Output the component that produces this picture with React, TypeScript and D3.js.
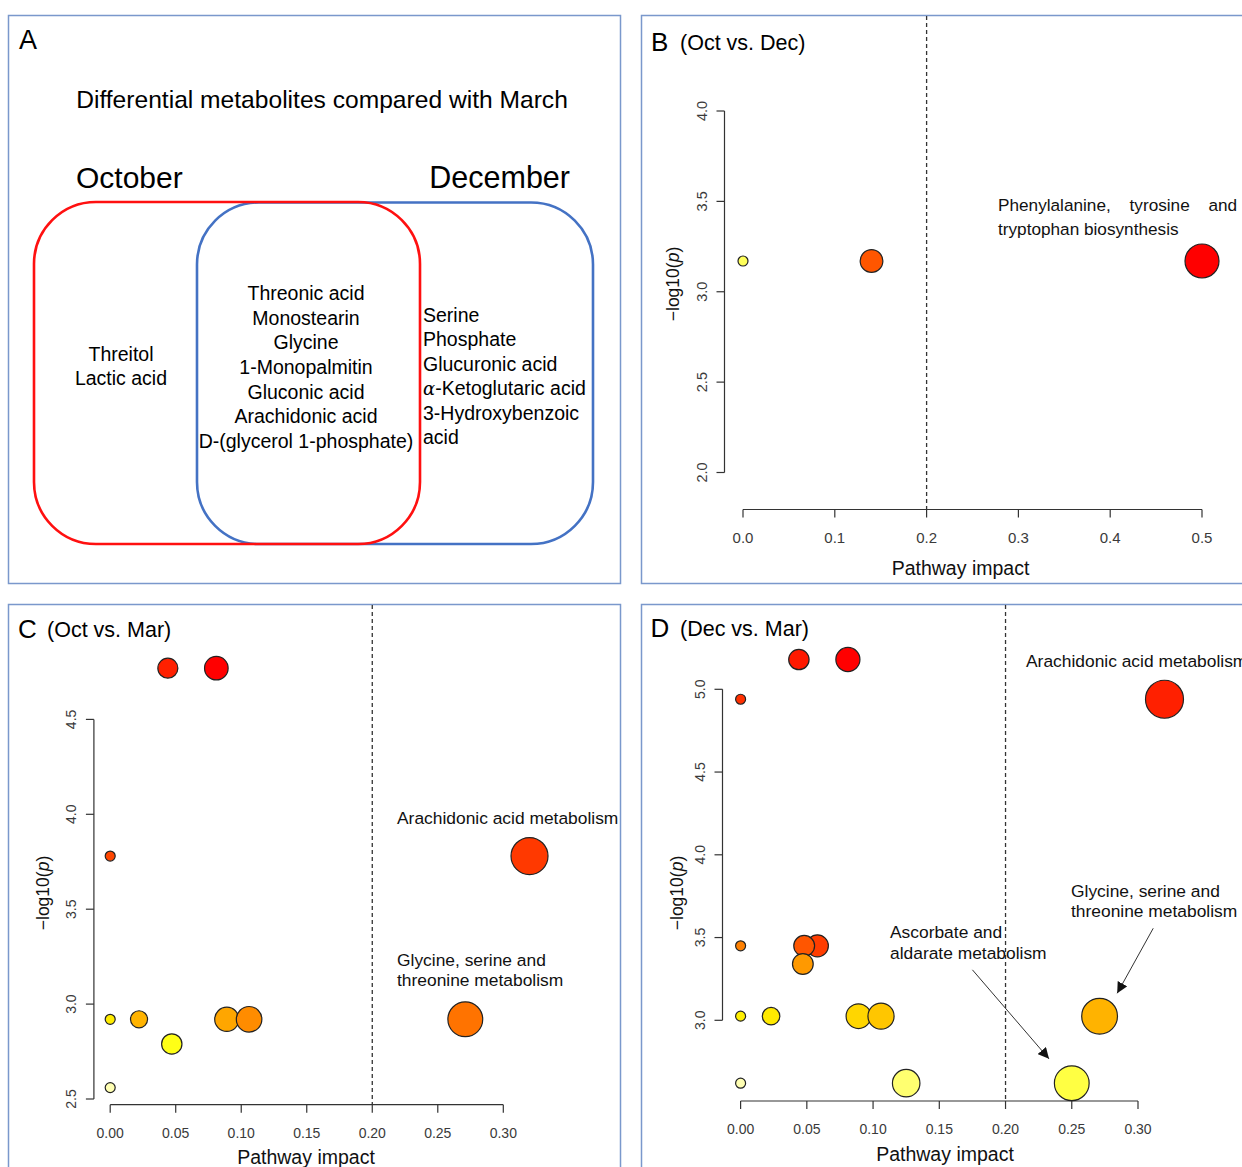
import React from "react";
import * as d3 from "d3";

const FONT = "'Liberation Sans', Arial, Helvetica, sans-serif";

// ---------- Panel A (Venn) ----------
const vennTitle = "Differential metabolites compared with March";
const setNames = ["October", "December"];
const octOnly = ["Threitol", "Lactic acid"];
const shared = [
  "Threonic acid",
  "Monostearin",
  "Glycine",
  "1-Monopalmitin",
  "Gluconic acid",
  "Arachidonic acid",
  "D-(glycerol 1-phosphate)",
];
const decOnly = ["Serine", "Phosphate", "Glucuronic acid", "-Ketoglutaric acid", "3-Hydroxybenzoic", "acid"];

// ---------- Panel B (Oct vs. Dec) ----------
const bImpact = [0, 0.14, 0.5];
const bLogP = [3.17, 3.17, 3.17];
const bHeat = [0.88, 0.27, 0];
const bXTicks = [0, 0.1, 0.2, 0.3, 0.4, 0.5];
const bYTicks = [2.0, 2.5, 3.0, 3.5, 4.0];

// ---------- Panel C (Oct vs. Mar) ----------
const cImpact = [0.044, 0.081, 0, 0.32, 0, 0.022, 0.047, 0.089, 0.106, 0.271, 0];
const cLogP = [4.77, 4.77, 3.78, 3.78, 2.92, 2.92, 2.79, 2.92, 2.92, 2.92, 2.56];
const cHeat = [0.1, 0, 0.22, 0.18, 0.74, 0.56, 0.82, 0.52, 0.44, 0.36, 0.96];
const cXTicks = [0, 0.05, 0.1, 0.15, 0.2, 0.25, 0.3];
const cYTicks = [2.5, 3.0, 3.5, 4.0, 4.5];

// ---------- Panel D (Dec vs. Mar) ----------
const dImpact = [0.044, 0.081, 0, 0.32, 0, 0.058, 0.048, 0.047, 0, 0.023, 0.089, 0.106, 0.271, 0, 0.125, 0.25];
const dLogP = [5.18, 5.18, 4.94, 4.94, 3.45, 3.45, 3.45, 3.34, 3.025, 3.025, 3.025, 3.025, 3.025, 2.62, 2.62, 2.62];
const dHeat = [0.08, 0, 0.15, 0.1, 0.4, 0.19, 0.27, 0.48, 0.75, 0.73, 0.67, 0.62, 0.56, 0.96, 0.9, 0.86];
const dXTicks = [0, 0.05, 0.1, 0.15, 0.2, 0.25, 0.3];
const dYTicks = [3.0, 3.5, 4.0, 4.5, 5.0];
// arrows (data coords): [x1, y1, x2, y2]
const dArrowAscorbate = [0.175, 3.305, 0.2328, 2.767];
const dArrowGlycine = [0.3115, 3.556, 0.2843, 3.163];

const impactThreshold = 0.2;

const heatColor = d3
  .scaleLinear<string>()
  .domain([0, 0.8, 1])
  .range(["#ff0000", "#ffff00", "#ffffe0"])
  .interpolate(d3.interpolateRgb);

const BORDER = "#7a98cc";
const TICK_COL = "#3a3a3a";

function Axes({ sx, sy, xTicks, yTicks, xAxisY, yAxisX, xFmt, yFmt, xfs, yfs }: any) {
  const fx = d3.format(xFmt);
  const fy = d3.format(yFmt);
  return (
    <g>
      <line x1={sx(xTicks[0])} x2={sx(xTicks[xTicks.length - 1])} y1={xAxisY} y2={xAxisY} stroke="#333" strokeWidth={1.2} />
      {xTicks.map((t: number) => (
        <g key={"x" + t}>
          <line x1={sx(t)} x2={sx(t)} y1={xAxisY} y2={xAxisY + 8} stroke="#333" strokeWidth={1.2} />
          <text x={sx(t)} y={xAxisY + 28} textAnchor="middle" dominantBaseline="central" fontSize={xfs} fill={TICK_COL}>
            {fx(t)}
          </text>
        </g>
      ))}
      <line x1={yAxisX} x2={yAxisX} y1={sy(yTicks[0])} y2={sy(yTicks[yTicks.length - 1])} stroke="#333" strokeWidth={1.2} />
      {yTicks.map((t: number) => (
        <g key={"y" + t}>
          <line x1={yAxisX - 8} x2={yAxisX} y1={sy(t)} y2={sy(t)} stroke="#333" strokeWidth={1.2} />
          <text
            transform={`translate(${yAxisX - 23},${sy(t)}) rotate(-90)`}
            textAnchor="middle"
            dominantBaseline="central"
            fontSize={yfs}
            fill={TICK_COL}
          >
            {fy(t)}
          </text>
        </g>
      ))}
    </g>
  );
}

function Points({ sx, sy, sr, impact, logp, heat }: any) {
  return (
    <g>
      {impact.map((v: number, i: number) => (
        <circle
          key={i}
          cx={sx(v)}
          cy={sy(logp[i])}
          r={sr(v)}
          fill={heatColor(heat[i])}
          stroke="#222"
          strokeWidth={1.2}
        />
      ))}
    </g>
  );
}

function YLabel({ x, y }: { x: number; y: number }) {
  return (
    <text transform={`translate(${x},${y}) rotate(-90)`} textAnchor="middle" dominantBaseline="central" fontSize={17.5} fill="#111">
      −log10(<tspan fontStyle="italic">p</tspan>)
    </text>
  );
}

export default function App() {
  // Panel B scales
  const sxB = d3.scaleLinear().domain([0, 0.5]).range([743, 1202]);
  const syB = d3.scaleLinear().domain([2, 4]).range([472.5, 111]);
  const srB = d3.scaleSqrt().domain([0, 0.5]).range([5, 17]);
  // Panel C scales
  const sxC = d3.scaleLinear().domain([0, 0.3]).range([110.2, 503.3]);
  const syC = d3.scaleLinear().domain([2.5, 4.5]).range([1099, 719.4]);
  const srC = d3.scaleSqrt().domain([0, 0.32]).range([5, 18.5]);
  // Panel D scales
  const sxD = d3.scaleLinear().domain([0, 0.3]).range([740.6, 1138]);
  const syD = d3.scaleLinear().domain([3, 5]).range([1020.3, 689.3]);
  const srD = d3.scaleSqrt().domain([0, 0.32]).range([5, 19]);

  const venLine = 24.67;

  return (
    <svg
      width={1242}
      height={1167}
      style={{ position: "absolute", left: 0, top: 0 }}
      fontFamily={FONT}
    >
      <defs>
        <marker id="arr" viewBox="0 0 10 10" refX="10" refY="5" markerWidth="11" markerHeight="11" markerUnits="userSpaceOnUse" orient="auto">
          <path d="M0,0 L10,5 L0,10 z" fill="#111" />
        </marker>
      </defs>
      <rect x={0} y={0} width={1242} height={1167} fill="#fff" />

      {/* Panel borders */}
      <rect x={8.5} y={15.5} width={612} height={568} fill="none" stroke={BORDER} strokeWidth={1.5} />
      <rect x={641.5} y={15.5} width={620} height={568} fill="none" stroke={BORDER} strokeWidth={1.5} />
      <rect x={8.5} y={604.5} width={612} height={580} fill="none" stroke={BORDER} strokeWidth={1.5} />
      <rect x={641.5} y={604.5} width={620} height={580} fill="none" stroke={BORDER} strokeWidth={1.5} />

      {/* ---------- Panel A ---------- */}
      <text x={19} y={49} fontSize={27} fill="#000">A</text>
      <text x={322} y={108} textAnchor="middle" fontSize={24.6} fill="#000">{vennTitle}</text>
      <text x={76} y={188} fontSize={30} fill="#000">{setNames[0]}</text>
      <text x={570} y={188} textAnchor="end" fontSize={30.5} fill="#000">{setNames[1]}</text>
      <rect x={197} y={202.5} width={396} height={341.5} rx={62} ry={62} fill="none" stroke="#4472c4" strokeWidth={2.6} />
      <rect x={34} y={202} width={386} height={342} rx={62} ry={62} fill="none" stroke="#ff1010" strokeWidth={2.6} />
      {octOnly.map((t, i) => (
        <text key={t} x={121} y={361 + i * 24.3} textAnchor="middle" fontSize={19.5} fill="#000">{t}</text>
      ))}
      {shared.map((t, i) => (
        <text key={t} x={306} y={300 + i * venLine} textAnchor="middle" fontSize={19.5} fill="#000">{t}</text>
      ))}
      {decOnly.map((t, i) => (
        <text key={t + i} x={423} y={322 + i * 24.4} fontSize={19.5} fill="#000">
          {i === 3 ? (
            <>
              <tspan fontFamily="'DejaVu Serif', serif" fontStyle="italic" fontSize={18}>α</tspan>
              {t}
            </>
          ) : (
            t
          )}
        </text>
      ))}

      {/* ---------- Panel B ---------- */}
      <text x={651} y={51} fontSize={26} fill="#000">B</text>
      <text x={680} y={50} fontSize={21.5} fill="#000">(Oct vs. Dec)</text>
      <line x1={sxB(impactThreshold)} x2={sxB(impactThreshold)} y1={16} y2={509.5} stroke="#333" strokeWidth={1.3} strokeDasharray="4 3" />
      <Axes sx={sxB} sy={syB} xTicks={bXTicks} yTicks={bYTicks} xAxisY={509.5} yAxisX={724.5} xFmt=".1f" yFmt=".1f" xfs={15} yfs={14.5} />
      <Points sx={sxB} sy={syB} sr={srB} impact={bImpact} logp={bLogP} heat={bHeat} />
      <text x={998} y={211} fontSize={17.2} fill="#111" wordSpacing={14}>Phenylalanine, tyrosine and</text>
      <text x={998} y={235} fontSize={17.2} fill="#111">tryptophan biosynthesis</text>
      <text x={960.5} y={568} textAnchor="middle" dominantBaseline="central" fontSize={19.5} fill="#111">Pathway impact</text>
      <YLabel x={672.6} y={284} />

      {/* ---------- Panel C ---------- */}
      <text x={18} y={638} fontSize={26} fill="#000">C</text>
      <text x={47} y={637} fontSize={21.5} fill="#000">(Oct vs. Mar)</text>
      <line x1={sxC(impactThreshold)} x2={sxC(impactThreshold)} y1={605} y2={1104.7} stroke="#333" strokeWidth={1.3} strokeDasharray="4 3" />
      <Axes sx={sxC} sy={syC} xTicks={cXTicks} yTicks={cYTicks} xAxisY={1104.7} yAxisX={93.9} xFmt=".2f" yFmt=".1f" xfs={14} yfs={14} />
      <Points sx={sxC} sy={syC} sr={srC} impact={cImpact} logp={cLogP} heat={cHeat} />
      <text x={397} y={824} fontSize={17.4} fill="#111">Arachidonic acid metabolism</text>
      <text x={397} y={966} fontSize={17.4} fill="#111">Glycine, serine and</text>
      <text x={397} y={986} fontSize={17.4} fill="#111">threonine metabolism</text>
      <text x={306} y={1157} textAnchor="middle" dominantBaseline="central" fontSize={19.5} fill="#111">Pathway impact</text>
      <YLabel x={42.9} y={893} />

      {/* ---------- Panel D ---------- */}
      <text x={650.5} y={637} fontSize={26} fill="#000">D</text>
      <text x={680} y={636} fontSize={21.5} fill="#000">(Dec vs. Mar)</text>
      <line x1={sxD(impactThreshold)} x2={sxD(impactThreshold)} y1={605} y2={1101} stroke="#333" strokeWidth={1.3} strokeDasharray="4 3" />
      <Axes sx={sxD} sy={syD} xTicks={dXTicks} yTicks={dYTicks} xAxisY={1101} yAxisX={722.5} xFmt=".2f" yFmt=".1f" xfs={14} yfs={14} />
      <Points sx={sxD} sy={syD} sr={srD} impact={dImpact} logp={dLogP} heat={dHeat} />
      <text x={1026} y={667} fontSize={17.4} fill="#111">Arachidonic acid metabolism</text>
      <text x={1071} y={897} fontSize={17.4} fill="#111">Glycine, serine and</text>
      <text x={1071} y={917} fontSize={17.4} fill="#111">threonine metabolism</text>
      <text x={890} y={938} fontSize={17.4} fill="#111">Ascorbate and</text>
      <text x={890} y={959} fontSize={17.4} fill="#111">aldarate metabolism</text>
      <line
        x1={sxD(dArrowAscorbate[0])}
        y1={syD(dArrowAscorbate[1])}
        x2={sxD(dArrowAscorbate[2])}
        y2={syD(dArrowAscorbate[3])}
        stroke="#333"
        strokeWidth={1}
        markerEnd="url(#arr)"
      />
      <line
        x1={sxD(dArrowGlycine[0])}
        y1={syD(dArrowGlycine[1])}
        x2={sxD(dArrowGlycine[2])}
        y2={syD(dArrowGlycine[3])}
        stroke="#333"
        strokeWidth={1}
        markerEnd="url(#arr)"
      />
      <text x={945} y={1154} textAnchor="middle" dominantBaseline="central" fontSize={19.5} fill="#111">Pathway impact</text>
      <YLabel x={676.5} y={893} />
    </svg>
  );
}
